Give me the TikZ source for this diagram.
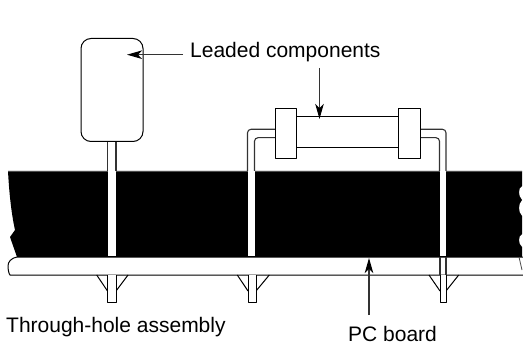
\documentclass[tikz,border=0pt]{standalone}
\usepackage{fontspec}
\setmainfont{Liberation Sans}
\usetikzlibrary{arrows.meta}
\tikzset{
  outline/.style={draw=black,line width=1pt,line join=round},
  part/.style={outline,fill=white,minimum width=0pt,minimum height=0pt,inner sep=0pt},
  lead/.style={line width=1.1pt,draw=black!80},
  pointer/.style={draw=black!80,line width=1.1pt,-{Stealth[length=15pt,width=8.5pt,inset=4pt,color=black]}},
  caption/.style={inner sep=0pt,anchor=base west,font=\fontsize{21}{24}\selectfont,text=black}
}
\begin{document}
\begin{tikzpicture}[x=1pt,y=-1pt]
\useasboundingbox (0,0) rectangle (523,345);
% board body (black laminate)
\fill[black] (8,171) -- (522,171) -- (522,186)
  .. controls (518,188) and (518,196) .. (522,200)
  .. controls (518,204) and (518,212) .. (522,216)
  -- (522,234) .. controls (518,236) and (518,244) .. (522,247)
  -- (522,257) -- (17,257) -- (10,237) -- (15,230)
  .. controls (11,212) and (9,190) .. (8,171) -- cycle;
\draw[black!70,line width=0.8pt] (8,171) -- (522,171);
% PC board strip
\draw[outline,fill=white] (523,257) -- (17,257)
  .. controls (11,258) and (8,262) .. (8,266)
  .. controls (8,270) and (9,274) .. (10,275) -- (523,275);
\draw[black!70,line width=0.8pt] (519,257) -- (522,270);
% solder fillets and lead ends
\foreach \a/\b/\c/\d in {96.7/107.5/116/128, 237.3/248/256/269.3, 429/440/446/458.7}{
  \draw[outline] (\a,275) -- (\b,291);
  \draw[outline] (\d,275) -- (\c,291);
  \draw[outline,fill=white] (\b,275) -- (\b,302.5) -- (\c,302.5) -- (\c,275);
}
% right lead through the board
\draw[lead] (440,257) -- (440,275) (446,257) -- (446,275);
% white leads in the black body
\fill[white] (108,160) rectangle (116,256);
\fill[white] (248,160) rectangle (254.5,256);
\fill[white] (440,160) rectangle (446,256);
% radial component
\draw[lead] (107.5,141) -- (107.5,171) (116,141) -- (116,171);
\node[part,rounded corners=10pt,minimum width=62pt,minimum height=103pt,anchor=north west] (radial) at (80.5,38) {};
% axial component leads
\draw[lead,rounded corners=3.5pt] (275,129.3) -- (247.5,129.3) -- (247.5,171);
\draw[lead,rounded corners=3.5pt] (275,137.7) -- (254.5,137.7) -- (254.5,171);
\draw[lead,rounded corners=3.5pt] (419,129.3) -- (446,129.3) -- (446,171);
\draw[lead,rounded corners=3.5pt] (419,137.7) -- (439.5,137.7) -- (439.5,171);
% axial component body and caps
\node[part,minimum width=103pt,minimum height=31.5pt,anchor=north west] (body) at (296,115.7) {};
\node[part,minimum width=21.3pt,minimum height=50pt,anchor=north west] (capL) at (274.7,108.3) {};
\node[part,minimum width=21.3pt,minimum height=50pt,anchor=north west] (capR) at (398.3,108.3) {};
% labels
\node[caption] (leaded) at (190,57.7) {Leaded components};
\node[caption] (through) at (6,332.3) {Through-hole assembly};
\node[caption] (pcb) at (348,341) {PC board};
% pointers
\coordinate (tipA) at (127,54.7);
\coordinate (tipB) at (319.5,119);
\coordinate (tipC) at (369,258);
\coordinate (startA) at (183,54.7);
\coordinate (startB) at (319.5,68);
\coordinate (startC) at (369,315);
\draw[pointer] (startA) -- (tipA);
\draw[pointer] (startB) -- (tipB);
\draw[pointer] (startC) -- (tipC);
\end{tikzpicture}
\end{document}
